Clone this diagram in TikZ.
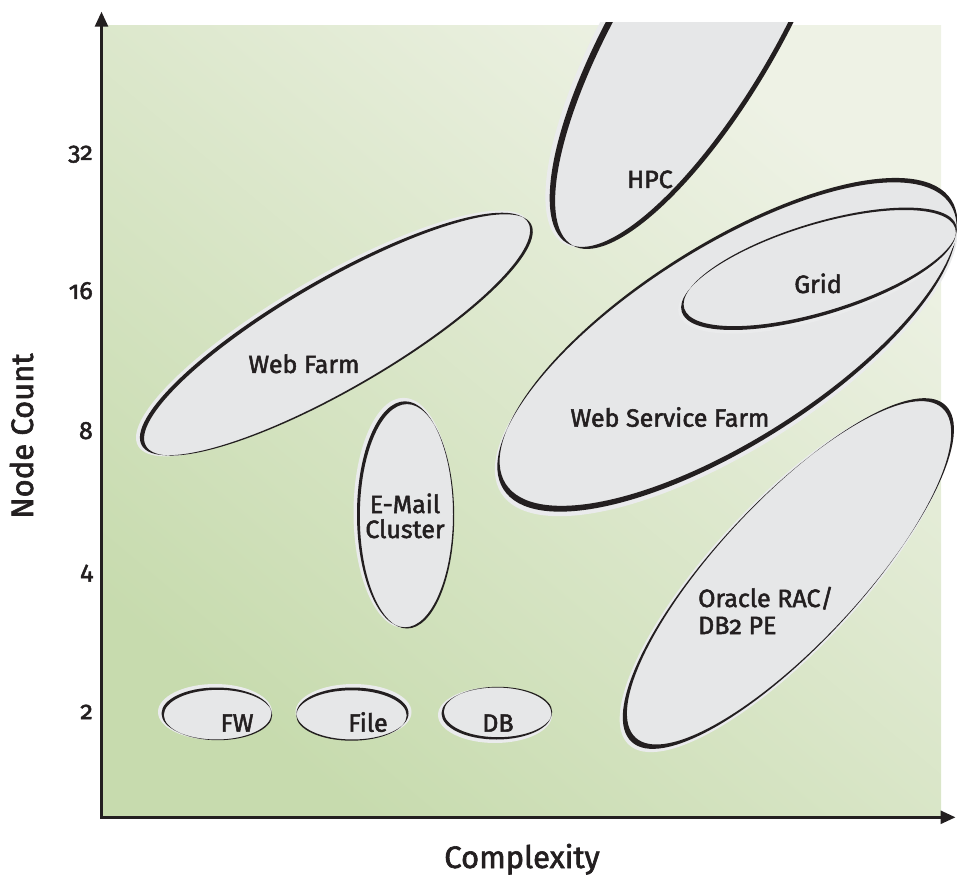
\documentclass[tikz,border=0pt]{standalone}
\usepackage{fontspec}
\setmainfont{Fira Sans}[Numbers=OldStyle, FakeBold=2]
\usetikzlibrary{arrows.meta}

\definecolor{ink}{HTML}{231F20}
\definecolor{blobgray}{HTML}{E6E7E8}
\definecolor{halogray}{HTML}{EAEBEC}
\definecolor{greendark}{HTML}{C7DBAE}
\definecolor{greenlight}{HTML}{EEF2E5}

% One cluster region: light grey body with a brush-like outline.
% #1 centre, #2 half length, #3 half width, #4 tilt,
% #5 offset of the inner outline ellipse, #6 offset of the halo
\newcommand\clusterblob[6]{%
  \begin{scope}[shift={#1}, rotate=#4]
    \fill[halogray] #6 ellipse [x radius=#2+2, y radius=#3+2];
    \fill[blobgray] (0,0) ellipse [x radius=#2, y radius=#3];
    \fill[ink, even odd rule] (0,0) ellipse [x radius=#2, y radius=#3]
      #5 ellipse [x radius=#2-0.8, y radius=#3-0.8];
  \end{scope}}

\tikzset{
  lbl/.style={font=\fontsize{25}{27}\selectfont, text=ink, inner sep=0pt, anchor=base},
  ticklbl/.style={font=\fontsize{25}{27}\selectfont, text=ink, inner sep=0pt, anchor=base east},
  axislbl/.style={font=\fontsize{31}{33}\selectfont, text=ink, inner sep=0pt, anchor=base},
  axisline/.style={draw=ink, line width=2.7pt,
    {Triangle[length=15pt,width=13pt]}-{Triangle[length=15pt,width=13pt]}}
}

\begin{document}
\begin{tikzpicture}[x=1pt,y=1pt]
\useasboundingbox (0,0) rectangle (957,876);

% plot area
\shade[bottom color=greendark, top color=greenlight, shading angle=-40]
  (102,58) rectangle (941,850);

% cluster regions
\clusterblob{(335,542)}{223}{55}{30}{(2.5,-2.5)}{(-1.5,1.5)}
\clusterblob{(405,361.7)}{48}{113}{0}{(2,-2)}{(-1.5,1.5)}
\clusterblob{(216.5,162.5)}{55}{26}{0}{(1.5,-1.5)}{(-1.5,1.5)}
\clusterblob{(352.5,162.5)}{56}{26}{0}{(-1,-2)}{(1,1.5)}
\clusterblob{(496.5,162.5)}{55}{26}{0}{(1.5,1.5)}{(-1.5,-1.5)}
\begin{scope}
  \clip (0,0) rectangle (957,853);
  \clusterblob{(695,850)}{252}{80}{59.5}{(0,-5.5)}{(0,3)}
\end{scope}
\clusterblob{(727,529)}{265}{98}{32.5}{(4,3.5)}{(-2,-2)}
\clusterblob{(818.5,606)}{143}{45}{17}{(2.5,2.5)}{(-1.5,-1.5)}
\clusterblob{(787,301)}{228}{72}{47}{(5,0)}{(-2,0)}

% region labels
\node[lbl] (webfarm) at (304,503) {Web Farm};
\node[lbl] (email1) at (405,363) {E-Mail};
\node[lbl] (email2) at (405,338) {Cluster};
\node[lbl] (fw) at (237,144.3) {FW};
\node[lbl] (file) at (368,144.3) {File};
\node[lbl] (db) at (498,144.3) {DB};
\node[lbl] (hpc) at (650,688) {HPC};
\node[lbl] (grid) at (818,583) {Grid};
\node[lbl] (wsf) at (670,449.3) {Web Service Farm};
\node[lbl, anchor=base west] (oracle1) at (698,269) {Oracle RAC/};
\node[lbl, anchor=base west] (oracle2) at (698,242) {DB2 PE};

% axes
\coordinate (origin) at (101.5,58.7);
\coordinate (ytip) at (101.5,864.3);
\coordinate (xtip) at (955.5,58.7);
\draw[axisline] (ytip) |- (xtip);

% scale marks
\node[ticklbl] (t32) at (93,716) {32};
\node[ticklbl] (t16) at (93,577) {16};
\node[ticklbl] (t8) at (93,437) {8};
\node[ticklbl] (t4) at (93,297) {4};
\node[ticklbl] (t2) at (93,157) {2};

% axis titles
\node[axislbl, rotate=90] (ytitle) at (33,440) {Node Count};
\node[axislbl] (xtitle) at (522,8) {Complexity};
\end{tikzpicture}
\end{document}
